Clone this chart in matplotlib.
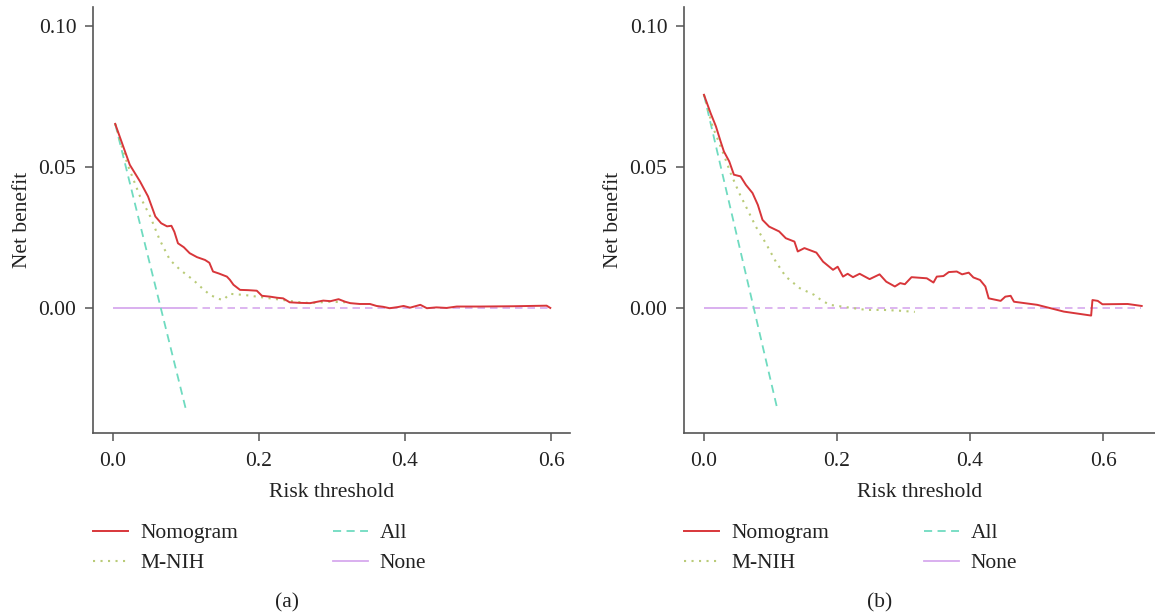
import matplotlib
matplotlib.use("Agg")
import matplotlib.pyplot as plt
from matplotlib.lines import Line2D

plt.rcParams['font.family'] = ['Liberation Serif', 'DejaVu Serif']

# ---------------- data: panel (a) ----------------
a_nomo_x = [0.003, 0.014, 0.023, 0.037, 0.048, 0.058, 0.066, 0.074, 0.080, 0.084, 0.089,
            0.097, 0.105, 0.115, 0.126, 0.132, 0.137, 0.145, 0.156, 0.160, 0.165, 0.174,
            0.185, 0.197, 0.204, 0.215, 0.225, 0.233, 0.242, 0.255, 0.270, 0.280, 0.288,
            0.298, 0.309, 0.318, 0.325, 0.338, 0.352, 0.361, 0.370, 0.379, 0.390, 0.398,
            0.407, 0.414, 0.421, 0.430, 0.443, 0.457, 0.471, 0.503, 0.548, 0.594, 0.599]
a_nomo_y = [0.0652, 0.0572, 0.0507, 0.0448, 0.0395, 0.0324, 0.0300, 0.0289, 0.0291, 0.0270, 0.0229,
            0.0215, 0.0194, 0.0180, 0.0170, 0.0160, 0.0129, 0.0122, 0.0111, 0.0100, 0.0082, 0.0064,
            0.0063, 0.0061, 0.0043, 0.0040, 0.0036, 0.0034, 0.0020, 0.0018, 0.0017, 0.0022, 0.0026,
            0.0024, 0.0031, 0.0022, 0.0017, 0.0014, 0.0014, 0.0007, 0.0004, -0.0001, 0.0003, 0.0007,
            0.0001, 0.0006, 0.0011, -0.0001, 0.0002, 0.0000, 0.0005, 0.0005, 0.0006, 0.0008, 0.0000]

a_mnih_x = [0.003, 0.012, 0.021, 0.037, 0.051, 0.064, 0.078, 0.092, 0.110, 0.122, 0.133,
            0.145, 0.151, 0.160, 0.180, 0.197, 0.215, 0.233, 0.250, 0.270, 0.295, 0.320]
a_mnih_y = [0.0652, 0.0572, 0.0501, 0.0395, 0.0324, 0.0241, 0.0170, 0.0135, 0.0099, 0.0070, 0.0046,
            0.0032, 0.0028, 0.0050, 0.0046, 0.0040, 0.0034, 0.0028, 0.0022, 0.0017, 0.0022, 0.0020]

a_all_x = [0.003, 0.100]
a_all_y = [0.0652, -0.0361]

a_none_x = [0.0, 0.105]
a_none_y = [0.0, 0.0]
a_ref_x = [0.105, 0.600]
a_ref_y = [0.0, 0.0]

# ---------------- data: panel (b) ----------------
b_nomo_x = [0.000, 0.010, 0.018, 0.025, 0.030, 0.038, 0.045, 0.055, 0.063, 0.073, 0.081,
            0.088, 0.098, 0.113, 0.123, 0.136, 0.141, 0.151, 0.169, 0.179, 0.194, 0.201,
            0.209, 0.216, 0.224, 0.234, 0.249, 0.264, 0.274, 0.287, 0.295, 0.302, 0.312,
            0.335, 0.345, 0.350, 0.360, 0.368, 0.380, 0.388, 0.398, 0.405, 0.415, 0.423,
            0.428, 0.446, 0.453, 0.461, 0.466, 0.501, 0.541, 0.582, 0.584, 0.592, 0.599,
            0.637, 0.658]
b_nomo_y = [0.0755, 0.0690, 0.0643, 0.0590, 0.0554, 0.0519, 0.0472, 0.0466, 0.0436, 0.0407, 0.0365,
            0.0312, 0.0288, 0.0271, 0.0247, 0.0235, 0.0200, 0.0212, 0.0196, 0.0164, 0.0135, 0.0146,
            0.0111, 0.0121, 0.0109, 0.0121, 0.0102, 0.0119, 0.0093, 0.0076, 0.0088, 0.0084, 0.0109,
            0.0105, 0.0090, 0.0111, 0.0113, 0.0127, 0.0129, 0.0119, 0.0125, 0.0108, 0.0099, 0.0076,
            0.0034, 0.0025, 0.0040, 0.0043, 0.0022, 0.0011, -0.0013, -0.0027, 0.0028, 0.0025, 0.0013,
            0.0014, 0.0007]

b_mnih_x = [0.000, 0.013, 0.028, 0.040, 0.053, 0.068, 0.078, 0.093, 0.108, 0.123, 0.144,
            0.166, 0.176, 0.189, 0.219, 0.244, 0.270, 0.295, 0.317]
b_mnih_y = [0.0755, 0.0643, 0.0554, 0.0478, 0.0407, 0.0336, 0.0288, 0.0229, 0.0164, 0.0111, 0.0070,
            0.0046, 0.0028, 0.0011, 0.0001, -0.0007, -0.0007, -0.0010, -0.0014]

b_all_x = [0.000, 0.110]
b_all_y = [0.0755, -0.0355]

b_none_x = [0.0, 0.054]
b_none_y = [0.0, 0.0]
b_ref_x = [0.054, 0.657]
b_ref_y = [0.0, 0.0]

x_ticks = [0.0, 0.2, 0.4, 0.6]
x_tick_labels = ["0.0", "0.2", "0.4", "0.6"]
y_ticks = [0.00, 0.05, 0.10]
y_tick_labels = ["0.00", "0.05", "0.10"]
legend_labels = ["Nomogram", "M-NIH", "All", "None"]

# ---------------- style ----------------
C_NOMO = '#D8363A'
C_MNIH = '#B9CB78'
C_ALL = '#6FDBC0'
C_NONE = '#D7A9EE'
C_AX = '#555555'
C_TXT = '#222222'
FS = 15.5

fig = plt.figure(figsize=(11.55, 6.16), dpi=100)
W, H = 1155, 616

def px_axes(x0, x1, y0, y1):
    return fig.add_axes([x0 / W, 1 - y1 / H, (x1 - x0) / W, (y1 - y0) / H])

panels = [
    dict(rect=(93, 570, 7, 433), xlim=(-0.0274, 0.626),
         nomo=(a_nomo_x, a_nomo_y), mnih=(a_mnih_x, a_mnih_y), all=(a_all_x, a_all_y),
         none=(a_none_x, a_none_y), ref=(a_ref_x, a_ref_y), cap="(a)", capx=287),
    dict(rect=(684, 1155, 7, 433), xlim=(-0.030, 0.678),
         nomo=(b_nomo_x, b_nomo_y), mnih=(b_mnih_x, b_mnih_y), all=(b_all_x, b_all_y),
         none=(b_none_x, b_none_y), ref=(b_ref_x, b_ref_y), cap="(b)", capx=880),
]

for p in panels:
    x0, x1, y0, y1 = p['rect']
    ax = px_axes(x0, x1, y0, y1)
    ax.plot(*p['ref'], color=C_NONE, lw=1.2, linestyle=(0, (4.5, 3.0)))
    ax.plot(*p['none'], color=C_NONE, lw=1.3, solid_capstyle='butt')
    ax.plot(*p['all'], color=C_ALL, lw=1.3, linestyle=(0, (4.5, 3.0)))
    ax.plot(*p['mnih'], color=C_MNIH, lw=1.5, linestyle=(0, (1, 2.6)))
    ax.plot(*p['nomo'], color=C_NOMO, lw=1.4)

    ax.set_xlim(*p['xlim'])
    ax.set_ylim(-0.0443, 0.1066)
    ax.set_xticks(x_ticks)
    ax.set_xticklabels(x_tick_labels)
    ax.set_yticks(y_ticks)
    ax.set_yticklabels(y_tick_labels)
    for s in ['top', 'right']:
        ax.spines[s].set_visible(False)
    for s in ['left', 'bottom']:
        ax.spines[s].set_color(C_AX)
        ax.spines[s].set_linewidth(1.2)
    ax.tick_params(axis='both', direction='out', length=6, width=1.1, color=C_AX,
                   labelsize=FS, labelcolor=C_TXT)
    ax.tick_params(axis='y', pad=6)
    ax.tick_params(axis='x', pad=8)
    ax.set_xlabel("Risk threshold", fontsize=FS, color=C_TXT, labelpad=8)
    ax.set_ylabel("Net benefit", fontsize=FS, color=C_TXT, labelpad=5)

    handles = [
        Line2D([], [], color=C_NOMO, lw=1.4),
        Line2D([], [], color=C_MNIH, lw=1.5, linestyle=(0, (1, 2.6))),
        Line2D([], [], color=C_ALL, lw=1.3, linestyle=(0, (4.5, 3.0))),
        Line2D([], [], color=C_NONE, lw=1.3),
    ]
    ax.legend(handles=handles, labels=legend_labels, ncol=2, loc='upper left',
              bbox_to_anchor=(x0 / W, 1 - 523 / H), bbox_transform=fig.transFigure,
              frameon=False, borderpad=0, borderaxespad=0, fontsize=FS,
              handlelength=1.63, handletextpad=0.56, columnspacing=4.4, labelspacing=0.48,
              labelcolor=C_TXT)

    fig.text(p['capx'] / W, 1 - 603 / H, p['cap'], ha='center', va='center',
             fontsize=FS, color=C_TXT)

fig.savefig("out.png", dpi=100)
